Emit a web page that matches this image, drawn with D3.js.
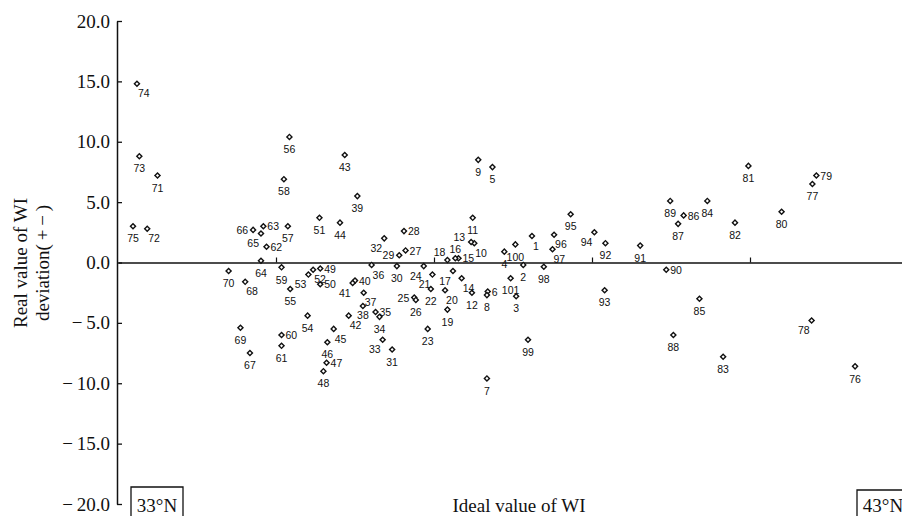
<!DOCTYPE html>
<html>
<head>
<meta charset="utf-8">
<script src="https://cdn.jsdelivr.net/npm/d3@7"></script>
<style>
  body { margin: 0; background: #fff; }
  .serif { font-family: "Liberation Serif", "Times New Roman", serif; fill: #111; }
  .num { font-family: "Liberation Sans", Arial, sans-serif; font-size: 10.5px; fill: #111; }
</style>
</head>
<body>
<div class="graph"></div>
<script>
// numero de estacion, valor ideal de WI (posicion), desviacion real
const stations = [1,2,3,4,5,6,7,8,9,10,11,12,13,14,15,16,17,18,19,20,
  21,22,23,24,25,26,27,28,29,30,31,32,33,34,35,36,37,38,39,40,
  41,42,43,44,45,46,47,48,49,50,51,52,53,54,55,56,57,58,59,60,
  61,62,63,64,65,66,67,68,69,70,71,72,73,74,75,76,77,78,79,80,
  81,82,83,84,85,86,87,88,89,90,91,92,93,94,95,96,97,98,99,100,101]

const idealWI = [52.4,51.3,50.4,48.9,47.4,46.8,46.7,46.7,45.6,45.1,
  44.9,44.8,44.7,43.5,43.1,42.7,42.4,41.7,41.7,41.4,
  39.8,39.6,39.2,38.7,37.5,37.7,36.4,36.2,35.6,35.3,
  34.7,33.7,33.5,33.1,32.6,32.1,31.1,31.0,30.3,30.0,
  29.7,29.2,28.7,28.1,27.3,26.5,26.4,26.0,25.6,25.6,
  25.5,24.7,24.1,24.0,21.8,21.7,21.5,21.0,20.7,20.7,
  20.7,18.8,18.4,18.1,18.1,17.1,16.7,16.1,15.5,14.0,
  5.0,3.7,2.7,2.4,1.9,93.3,87.9,87.8,88.4,84.0,
  79.8,78.1,76.6,74.6,73.6,71.6,70.9,70.3,69.9,69.4,
  66.1,61.7,61.6,60.3,57.3,55.2,55.0,53.9,51.9,50.3,49.7]

const deviation = [2.2,-0.2,-2.8,0.9,7.9,-2.4,-9.6,-2.7,8.5,1.6,
  3.7,-2.5,1.7,-1.3,0.35,0.35,-0.7,0.2,-3.9,-2.3,
  -1.0,-2.2,-5.5,-0.3,-2.9,-3.1,1.0,2.6,0.6,-0.3,
  -7.2,2.0,-6.4,-4.5,-4.1,-0.2,-2.5,-3.6,5.5,-1.5,
  -1.7,-4.4,8.9,3.3,-5.5,-6.6,-8.3,-9.0,-0.5,-1.8,
  3.7,-0.6,-1.0,-4.4,-2.2,10.4,3.0,6.9,-0.4,-6.0,
  -6.9,1.3,3.0,0.15,2.4,2.7,-7.5,-1.6,-5.4,-0.7,
  7.2,2.8,8.8,14.8,3.0,-8.6,6.5,-4.8,7.2,4.2,
  8.0,3.3,-7.8,5.1,-3.0,3.9,3.2,-6.0,5.1,-0.6,
  1.4,1.6,-2.3,2.5,4.0,2.3,1.1,-0.35,-6.4,1.5,-1.3]

const yTicks = [-20,-15,-10,-5,0,5,10,15,20]
const xTicks = [20,40,60,80]

// lado donde va el numero de cada estacion (por defecto abajo)
const labelSide = {
  1:'SE',6:'E',10:'SE',13:'WN',14:'SE',15:'E',16:'N',17:'SW',18:'NW',20:'SE',
  21:'SW',24:'SW',25:'W',27:'E',28:'E',29:'W',32:'SW',33:'SW',35:'E',36:'SE',
  37:'SE',38:'Sc',40:'E',41:'SW',42:'SE',45:'SE',47:'E',49:'E',50:'E',52:'SE',53:'SW',
  60:'E',62:'E',63:'E',65:'SW',66:'W',68:'SE',72:'SE',74:'SE',78:'SW',79:'E',
  86:'E',90:'E',94:'SW',96:'SE',97:'SE'
}
const offsets = {
  S: [0, 12.5, 'middle'], Sc: [0, 9, 'middle'], N: [0, -9, 'middle'],
  E: [4, 0.5, 'start'], W: [-5, 0.5, 'end'], WN: [-6, -5, 'end'],
  SE: [1, 10, 'start'], SW: [-2, 10, 'end'], NW: [-2, -8, 'end']
}

const width = 902, height = 516

const svg = d3.select('.graph')
  .append('svg')
  .attr('width', width)
  .attr('height', height)

const x = d3.scaleLinear().domain([0, 100]).range([118, 908])
const y = d3.scaleLinear().domain([-20, 20]).range([504, 21])

const fmt = d3.format('.1f')

// eje Y
const yAxis = d3.axisLeft(y)
  .tickValues(yTicks)
  .tickSize(-5)
  .tickSizeOuter(0)
  .tickPadding(7)
  .tickFormat(v => v < 0 ? '\u2212\u2009' + fmt(-v) : fmt(v))

const gy = svg.append('g')
  .attr('transform', 'translate(117,0)')
  .call(yAxis)
gy.select('.domain').attr('stroke', '#111').attr('stroke-width', 1.5)
gy.selectAll('.tick line').attr('stroke', '#111').attr('stroke-width', 1.3)
gy.selectAll('.tick text')
  .attr('class', 'serif')
  .style('font-size', '19px')

// linea de cero con marcas
const xAxis = d3.axisTop(x)
  .tickValues(xTicks)
  .tickSize(5)
  .tickSizeOuter(0)
  .tickFormat('')

const gx = svg.append('g')
  .attr('transform', `translate(0,${y(0)})`)
  .call(xAxis)
gx.select('.domain').attr('stroke', '#111').attr('stroke-width', 1.5)
gx.selectAll('.tick line').attr('stroke', '#111').attr('stroke-width', 1.2)

// puntos
const data = stations.map((s, i) => ({ id: s, wi: idealWI[i], dev: deviation[i] }))

const marker = d3.symbol().type(d3.symbolSquare).size(13)

svg.append('g')
  .selectAll('path')
  .data(data)
  .enter()
  .append('path')
  .attr('d', marker)
  .attr('transform', d => `translate(${x(d.wi)},${y(d.dev)}) rotate(45)`)
  .attr('fill', '#fff')
  .attr('stroke', '#111')
  .attr('stroke-width', 1.4)

const side = d => offsets[labelSide[d.id] || 'S']

svg.append('g')
  .selectAll('text')
  .data(data)
  .enter()
  .append('text')
  .attr('class', 'num')
  .attr('x', d => x(d.wi) + side(d)[0])
  .attr('y', d => y(d.dev) + side(d)[1])
  .attr('dy', '0.35em')
  .attr('text-anchor', d => side(d)[2])
  .text(d => d.id)

// titulos de ejes
const yTitle = svg.append('text')
  .attr('class', 'serif')
  .attr('transform', 'translate(20,263) rotate(-90)')
  .attr('text-anchor', 'middle')
  .style('font-size', '19px')
yTitle.append('tspan').attr('x', 0).attr('dy', '0.35em').text('Real value of WI')
yTitle.append('tspan').attr('x', 0).attr('dy', '1.15em').text('deviation(\u2009+\u2009\u2212\u2009)')

svg.append('text')
  .attr('class', 'serif')
  .attr('x', 519)
  .attr('y', 511.5)
  .attr('text-anchor', 'middle')
  .style('font-size', '19px')
  .text('Ideal value of WI')

// recuadros de latitud
const boxes = [{ label: '33°N', left: 131, top: 487 }, { label: '43°N', left: 857, top: 490 }]
boxes.forEach(b => {
  svg.append('path')
    .attr('d', `M${b.left},${height + 2}V${b.top}H${b.left + 52}V${height + 2}`)
    .attr('fill', 'none')
    .attr('stroke', '#111')
    .attr('stroke-width', 1.3)
  svg.append('text')
    .attr('class', 'serif')
    .attr('x', b.left + 26)
    .attr('y', 511.5)
    .attr('text-anchor', 'middle')
    .style('font-size', '19px')
    .text(b.label)
})
</script>
</body>
</html>
